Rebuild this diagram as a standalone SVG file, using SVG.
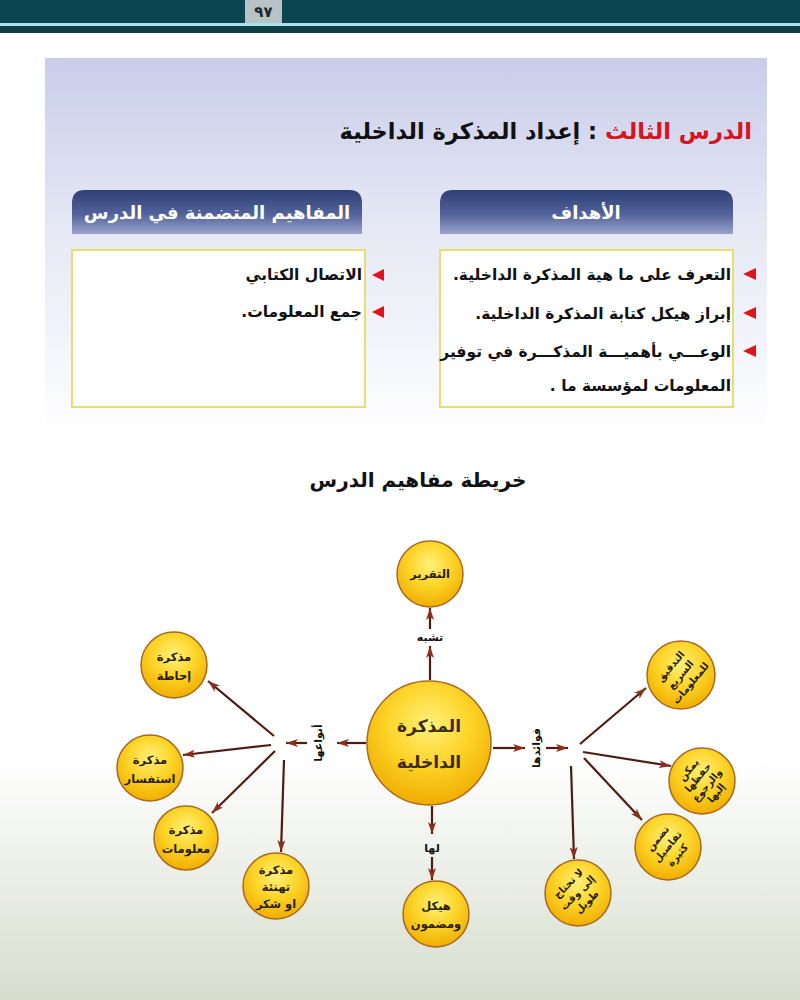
<svg xmlns="http://www.w3.org/2000/svg" width="800" height="1000" viewBox="0 0 800 1000">
<defs>
<linearGradient id="panel" x1="0" y1="0" x2="0" y2="1">
<stop offset="0" stop-color="#c9cdea"/>
<stop offset="0.45" stop-color="#e6e8f5"/>
<stop offset="1" stop-color="#ffffff"/>
</linearGradient>
<linearGradient id="bottom" x1="0" y1="0" x2="0" y2="1">
<stop offset="0" stop-color="#ffffff"/>
<stop offset="1" stop-color="#d6ddcd"/>
</linearGradient>
<linearGradient id="tab" x1="0" y1="0" x2="0" y2="1">
<stop offset="0" stop-color="#2e3f74"/>
<stop offset="0.55" stop-color="#52629a"/>
<stop offset="1" stop-color="#9aa3cb"/>
</linearGradient>
<radialGradient id="ball" cx="0.5" cy="0.35" r="0.65">
<stop offset="0" stop-color="#fff07a"/>
<stop offset="0.5" stop-color="#fdd52a"/>
<stop offset="1" stop-color="#f0ad00"/>
</radialGradient>
<marker id="ah" viewBox="0 0 12 8" refX="12" refY="4" markerWidth="12" markerHeight="8" markerUnits="userSpaceOnUse" orient="auto">
<path d="M0,0 L12,4 L0,8 L3,4 Z" fill="#8c2e1c"/>
</marker>
</defs>
<style>
.ar{font-family:"DejaVu Sans",sans-serif;font-weight:bold;direction:rtl;}
.tabt{fill:#ffffff;font-size:18px;text-anchor:middle;}
.item{fill:#111111;font-size:15.5px;text-anchor:start;}
.box{fill:#ffffff;stroke:#e6df6a;stroke-width:2;}
.bul{fill:#e0151c;}
.node circle{fill:url(#ball);stroke:#a86a22;stroke-width:1.5;}
.nt{fill:#2a1e08;font-size:11.5px;text-anchor:middle;}
.rt{fill:#2a1e08;font-size:10px;text-anchor:middle;}
.lbl{fill:#111111;font-size:11px;text-anchor:middle;}
.conn line{stroke:#4e1c12;stroke-width:2.2;marker-end:url(#ah);}
</style>
<rect x="0" y="0" width="800" height="1000" fill="#ffffff"/>
<rect x="0" y="760" width="800" height="240" fill="url(#bottom)"/>
<rect x="45" y="58" width="722" height="380" fill="url(#panel)"/>
<g id="header">
<rect x="0" y="0" width="800" height="23" fill="#0b4650"/>
<rect x="245" y="0" width="37" height="23" fill="#b8c3c6"/>
<text x="263.5" y="17" style="font-family:'DejaVu Sans',sans-serif;font-weight:bold;font-size:15px;text-anchor:middle;fill:#1c2a30">٩٧</text>
<rect x="0" y="23" width="800" height="3" fill="#a6e3ea"/>
<rect x="0" y="26" width="800" height="7" fill="#0f3d46"/>
</g>
<g id="title">
<text class="ar" x="752" y="139" style="font-size:22.5px;text-anchor:start"><tspan fill="#d8141c">الدرس الثالث</tspan><tspan fill="#111111"> : إعداد المذكرة الداخلية</tspan></text>
</g>
<g id="concepts">
<path d="M72,234 L72,203 Q72,190 85,190 L349,190 Q362,190 362,203 L362,234 Z" fill="url(#tab)"/>
<text class="ar tabt" x="217" y="219">المفاهيم المتضمنة في الدرس</text>
<rect class="box" x="72" y="250" width="293" height="157"/>
<polygon class="bul" points="372,275 384,269 384,281"/>
<text class="ar item" x="362" y="280">الاتصال الكتابي</text>
<polygon class="bul" points="372,312 384,306 384,318"/>
<text class="ar item" x="362" y="317">جمع المعلومات.</text>
</g>
<g id="objectives">
<path d="M440,234 L440,203 Q440,190 453,190 L720,190 Q733,190 733,203 L733,234 Z" fill="url(#tab)"/>
<text class="ar tabt" x="586" y="219">الأهداف</text>
<rect class="box" x="440" y="250" width="293" height="157"/>
<polygon class="bul" points="743,274 756,268 756,280"/>
<text class="ar item" x="731" y="280">التعرف على ما هية المذكرة الداخلية.</text>
<polygon class="bul" points="743,313 756,307 756,319"/>
<text class="ar item" x="731" y="319">إبراز هيكل كتابة المذكرة الداخلية.</text>
<polygon class="bul" points="743,351 756,345 756,357"/>
<text class="ar item" x="731" y="357">الوعـــي بأهميـــة المذكـــرة في توفير</text>
<text class="ar item" x="731" y="391">المعلومات لمؤسسة ما .</text>
</g>
<g id="maptitle">
<text class="ar" x="418" y="487" style="font-size:20px;text-anchor:middle;fill:#111111">خريطة مفاهيم الدرس</text>
</g>
<g id="connectors" class="conn">
<line x1="430" y1="680" x2="430" y2="646"/>
<line x1="430" y1="629" x2="430" y2="608"/>
<line x1="366" y1="743" x2="337" y2="743"/>
<line x1="307" y1="743" x2="286" y2="743"/>
<line x1="274" y1="736" x2="208" y2="681"/>
<line x1="271" y1="745" x2="183" y2="755"/>
<line x1="275" y1="751" x2="212" y2="813"/>
<line x1="284" y1="760" x2="281" y2="852"/>
<line x1="493" y1="748" x2="525" y2="748"/>
<line x1="546" y1="748" x2="568" y2="748"/>
<line x1="580" y1="744" x2="646" y2="688"/>
<line x1="583" y1="752" x2="671" y2="766"/>
<line x1="584" y1="758" x2="642" y2="820"/>
<line x1="571" y1="766" x2="574" y2="859"/>
<line x1="432" y1="806" x2="432" y2="834"/>
<line x1="432" y1="857" x2="432" y2="880"/>
</g>
<g id="labels">
<text class="ar lbl" x="430" y="641">تشبه</text>
<text class="ar lbl" x="432" y="852">لها</text>
<text class="ar lbl" transform="translate(322,743) rotate(-90)" x="0" y="0">أنواعها</text>
<text class="ar lbl" transform="translate(540,748) rotate(-90)" x="0" y="0">فوائدها</text>
</g>
<g id="n-center" class="node">
<circle cx="429" cy="743" r="62"/>
<text class="ar nt" x="429" y="732" style="font-size:17px;fill:#3b2d12">المذكرة</text>
<text class="ar nt" x="429" y="768" style="font-size:17px;fill:#3b2d12">الداخلية</text>
</g>
<g id="n-report" class="node">
<circle cx="430" cy="574" r="33"/>
<text class="ar nt" x="430" y="578">التقرير</text>
</g>
<g id="n-ihata" class="node">
<circle cx="174" cy="665" r="33"/>
<text class="ar nt" x="174" y="661">مذكرة</text>
<text class="ar nt" x="174" y="680">إحاطة</text>
</g>
<g id="n-istifsar" class="node">
<circle cx="150" cy="768" r="33"/>
<text class="ar nt" x="150" y="764">مذكرة</text>
<text class="ar nt" x="150" y="783">استفسار</text>
</g>
<g id="n-maalumat" class="node">
<circle cx="186" cy="838" r="32"/>
<text class="ar nt" x="186" y="834">مذكرة</text>
<text class="ar nt" x="186" y="853">معلومات</text>
</g>
<g id="n-tahniah" class="node">
<circle cx="276" cy="886" r="33"/>
<text class="ar nt" x="276" y="874">مذكرة</text>
<text class="ar nt" x="276" y="891">تهنئة</text>
<text class="ar nt" x="276" y="908">او شكر</text>
</g>
<g id="n-haykal" class="node">
<circle cx="436" cy="914" r="33"/>
<text class="ar nt" x="436" y="910">هيكل</text>
<text class="ar nt" x="436" y="928">ومضمون</text>
</g>
<g id="n-tadqiq" class="node">
<circle cx="681" cy="675" r="34"/>
<g transform="translate(681,675) rotate(-50)">
<text class="ar rt" x="0" y="-10">التدقيق</text>
<text class="ar rt" x="0" y="3">السريع</text>
<text class="ar rt" x="0" y="16">للمعلومات</text>
</g>
</g>
<g id="n-hifz" class="node">
<circle cx="702" cy="781" r="33"/>
<g transform="translate(702,781) rotate(-50)">
<text class="ar rt" x="0" y="-14">يمكن</text>
<text class="ar rt" x="0" y="-2">حفظها</text>
<text class="ar rt" x="0" y="10">والرجوع</text>
<text class="ar rt" x="0" y="22">إليها</text>
</g>
</g>
<g id="n-tafasil" class="node">
<circle cx="668" cy="847" r="33"/>
<g transform="translate(668,847) rotate(-50)">
<text class="ar rt" x="0" y="-10">تضمن</text>
<text class="ar rt" x="0" y="3">تفاصيل</text>
<text class="ar rt" x="0" y="16">كثيرة</text>
</g>
</g>
<g id="n-waqt" class="node">
<circle cx="578" cy="893" r="33"/>
<g transform="translate(578,893) rotate(-45)">
<text class="ar rt" x="0" y="-10">لا تحتاج</text>
<text class="ar rt" x="0" y="3">إلى وقت</text>
<text class="ar rt" x="0" y="16">طويل</text>
</g>
</g>
</svg>
